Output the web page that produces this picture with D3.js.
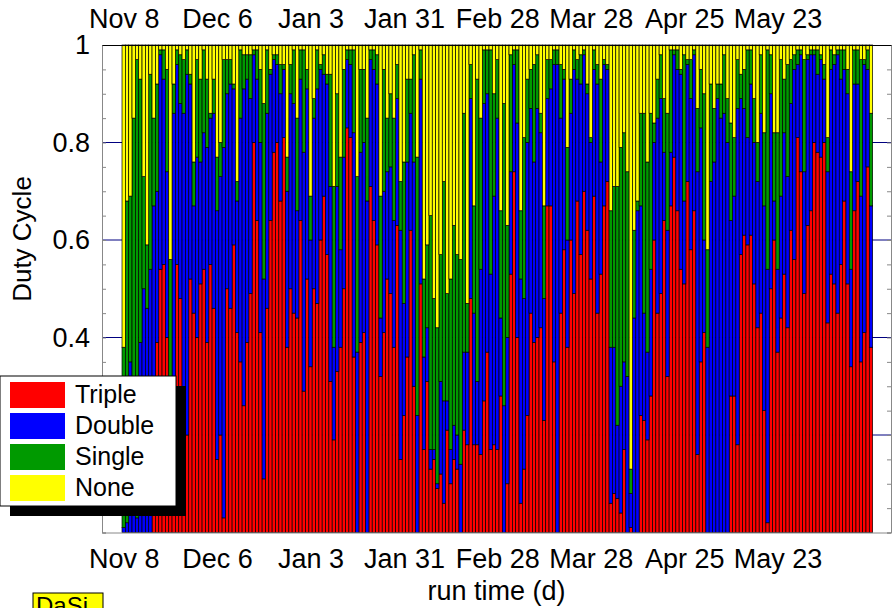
<!DOCTYPE html>
<html>
<head>
<meta charset="utf-8">
<script src="https://cdn.jsdelivr.net/npm/d3@7"></script>
<style>
  body { margin: 0; background: #fff; }
  text { font-family: "Liberation Sans", Arial, sans-serif; fill: #000; }
</style>
</head>
<body>
<svg id="chart" width="892" height="608"></svg>
<script>
// first bar is Nov 8, one bar per day
const startDay = new Date(Date.UTC(2002, 10, 8));
const tickLabels = ["Nov 8", "Dec 6", "Jan 3", "Jan 31", "Feb 28", "Mar 28", "Apr 25", "May 23"];
const gridTicks = [0.2, 0.4, 0.6, 0.8];
// 0.2 and 0 sit behind the legend in the original, so only these carry text
const yLabelTicks = [0.4, 0.6, 0.8, 1];
const seriesNames = ["Triple", "Double", "Single", "None"];
const seriesColors = ["#ff0000", "#0000ff", "#009a00", "#ffff00"];

// daily fractions, percent
const triple = [
  0,0,0,0,0,0,0,0,0,15, 39,54,55,40,10,20,55,48,25,20, 52,45,40,51,54,39,55,46,15,20,
  3,50,46,59,41,35,26,39,49,80, 64,41,11,46,64,78,80,68,81,38, 50,45,44,64,29,52,34,50,47,60,
  69,57,31,19,33,38,50,83,81,36, 0,39,41,0,71,64,59,32,41,52, 49,38,63,15,24,36,62,30,0,51,
  17,31,13,15,9,12,6,21,10,15, 13,0,21,18,48,18,18,16,27,37, 17,18,17,28,0,10,53,74,40,6,
  13,24,45,39,40,42,23,67,67,35, 0,45,58,38,60,49,68,57,70,62, 52,69,45,53,67,72,6,8,7,4,
  17,0,1,0,0,24,23,19,28,60, 45,49,64,32,67,77,66,54,51,72, 58,66,16,35,41,0,0,0,0,0,
  0,0,28,28,18,57,61,59,61,51, 42,45,25,2,50,60,37,44,53,42, 62,56,81,74,49,63,66,80,78,77,
  80,43,53,51,45,55,68,51,34,66, 72,35,41,75,38
];
const double = [
  1,2,35,30,3,39,50,46,54,52, 31,44,38,34,22,66,41,40,61,74, 40,22,37,25,28,40,30,40,51,53,
  76,40,46,32,27,50,65,54,40,18, 29,39,41,40,30,19,16,22,14,32, 40,43,22,29,49,39,26,35,44,35,
  25,35,40,19,38,20,27,14,15,46, 37,39,39,68,26,31,33,12,29,22, 26,26,26,47,23,40,24,46,24,42,
  19,11,4,2,1,19,21,6,7,7, 7,14,16,19,41,27,13,38,61,53, 36,51,68,16,26,30,21,22,44,46,
  35,56,42,37,47,40,25,22,24,61, 96,40,35,22,26,46,25,35,28,28, 28,26,47,23,29,23,32,30,15,26,
  18,32,7,44,66,43,22,18,26,20, 40,40,14,30,11,21,29,40,17,24, 31,32,58,48,19,38,72,76,89,85,
  86,80,36,41,69,32,26,22,31,29, 30,41,42,52,40,8,17,25,29,31, 26,39,15,24,25,34,32,18,16,20,
  13,31,42,45,53,38,27,39,20,26, 20,34,55,20,29
];
const single = [
  37,66,34,55,94,54,23,13,40,18, 22,1,6,21,24,6,3,10,11,5, 2,9,20,17,17,14,1,7,11,7,
  18,7,5,1,4,14,7,5,9,1, 6,15,36,13,1,1,2,6,1,7, 6,11,19,6,21,4,9,4,8,1,
  4,2,23,33,19,19,18,2,3,17, 36,17,15,17,2,4,6,25,25,11, 15,21,7,10,29,17,7,22,53,6,
  16,17,48,31,32,26,45,22,35,41, 37,42,49,10,7,22,62,31,11,9, 46,21,12,22,62,23,24,3,15,14,
  33,13,8,20,11,4,19,8,6,3, 3,11,2,19,7,4,4,6,1,2, 1,4,4,17,1,1,28,33,49,49,
  47,42,5,18,2,19,41,39,32,4, 8,9,11,24,21,1,4,1,30,1, 8,1,13,12,30,20,20,11,3,7,
  12,9,20,12,10,5,8,18,7,9, 8,12,15,45,8,14,28,28,11,23, 9,3,3,1,23,1,1,1,5,1,
  3,7,4,2,1,6,4,5,20,7, 7,28,1,4,19
];
const none = [
  62,32,31,15,3,7,27,41,6,15, 8,1,1,5,44,8,1,2,3,1, 6,24,3,7,1,7,14,7,23,20,
  3,3,3,8,28,1,2,2,2,1, 1,5,12,1,5,2,2,4,4,23, 4,1,15,1,1,5,31,11,1,4,
  2,6,6,29,10,23,5,1,1,1, 27,5,5,15,1,1,2,31,5,15, 10,15,4,28,24,7,7,2,23,1,
  48,41,35,52,58,43,28,51,48,37, 43,44,14,53,4,33,7,15,1,1, 1,10,3,34,12,37,2,1,1,34,
  19,7,5,4,2,14,33,3,3,1, 1,4,5,21,7,1,3,2,1,8, 19,1,4,7,3,4,34,29,29,21,
  18,26,87,38,32,14,14,24,14,16, 7,2,11,14,1,1,1,5,2,3, 3,1,13,5,10,42,8,13,8,8,
  2,11,16,19,3,6,5,1,1,11, 20,2,18,1,2,18,18,3,7,4, 3,2,1,1,3,2,1,1,1,2,
  4,19,1,2,1,1,1,5,26,1, 1,3,3,1,14
];

const margin = { top: 45, right: 1, bottom: 75.5, left: 102 };
const W = 892, H = 608;
const plotW = W - margin.left - margin.right;
const plotH = H - margin.top - margin.bottom;

const svg = d3.select("#chart");
svg.append("rect").attr("width", W).attr("height", H).attr("fill", "#fff");

const days = d3.utcDay.range(startDay, d3.utcDay.offset(startDay, triple.length));
const table = days.map((date, i) => ({
  date,
  Triple: triple[i] / 100,
  Double: double[i] / 100,
  Single: single[i] / 100,
  None: none[i] / 100
}));

const x = d3.scaleUtc()
  .domain([d3.utcHour.offset(startDay, -156), d3.utcDay.offset(startDay, 230)])
  .range([margin.left, margin.left + plotW]);
const y = d3.scaleLinear().domain([0, 1]).range([margin.top + plotH, margin.top]);

// grid lines behind the bars
svg.append("g")
  .selectAll("line")
  .data(gridTicks)
  .join("line")
  .attr("x1", margin.left).attr("x2", margin.left + plotW)
  .attr("y1", d => y(d)).attr("y2", d => y(d))
  .attr("stroke", "#000080").attr("stroke-width", 1);

const stacked = d3.stack().keys(seriesNames)(table);
const color = d3.scaleOrdinal().domain(seriesNames).range(seriesColors);

svg.append("g")
  .selectAll("g")
  .data(stacked)
  .join("g")
  .attr("fill", d => color(d.key))
  .selectAll("rect")
  .data(d => d)
  .join("rect")
  .attr("x", d => x(d3.utcHour.offset(d.data.date, -12)))
  .attr("width", d => x(d3.utcHour.offset(d.data.date, 12)) - x(d3.utcHour.offset(d.data.date, -12)))
  .attr("y", d => y(d[1]))
  .attr("height", d => y(d[0]) - y(d[1]))
  .attr("stroke", "#000")
  .attr("stroke-width", 0.7);

// axes
const tickDates = tickLabels.map((t, i) => d3.utcDay.offset(startDay, 28 * i));
const fmt = d3.utcFormat("%b %-d");
const minorY = d3.range(0, 1.0001, 0.05);

const leftAxis = svg.append("g")
  .attr("transform", `translate(${margin.left},0)`)
  .call(d3.axisLeft(y).tickValues(minorY).tickSize(-4).tickPadding(12)
    .tickFormat(v => yLabelTicks.some(t => Math.abs(t - v) < 1e-6) ? d3.format("~g")(v) : ""));
leftAxis.selectAll("path, line").attr("stroke", "#888");
leftAxis.selectAll("text").attr("font-size", 27).attr("font-family", null);

const rightAxis = svg.append("g")
  .attr("transform", `translate(${margin.left + plotW},0)`)
  .call(d3.axisRight(y).tickValues(minorY).tickSize(-4).tickFormat(""));
rightAxis.selectAll("path, line").attr("stroke", "#888");

const topAxis = svg.append("g")
  .attr("transform", `translate(0,${margin.top})`)
  .call(d3.axisTop(x).tickValues(tickDates).tickSize(0).tickPadding(17.5).tickFormat(fmt));
topAxis.select("path").attr("stroke", "#000");
topAxis.selectAll("text").attr("font-size", 27).attr("font-family", null);

const bottomAxis = svg.append("g")
  .attr("transform", `translate(0,${margin.top + plotH})`)
  .call(d3.axisBottom(x).tickValues(tickDates).tickSize(0).tickPadding(16).tickFormat(fmt));
bottomAxis.select("path").attr("stroke", "#888");
bottomAxis.selectAll("text").attr("font-size", 27).attr("font-family", null);

// axis titles
svg.append("text")
  .attr("x", margin.left + plotW / 2).attr("y", 600)
  .attr("text-anchor", "middle").attr("font-size", 27)
  .text("run time (d)");

svg.append("text")
  .attr("transform", "translate(31,239) rotate(-90)")
  .attr("text-anchor", "middle").attr("font-size", 26)
  .text("Duty Cycle");

// legend with drop shadow
const legend = svg.append("g").attr("transform", "translate(0,376)");
legend.append("rect").attr("x", 10).attr("y", 10).attr("width", 176).attr("height", 130).attr("fill", "#000");
legend.append("rect").attr("x", 0).attr("y", 0).attr("width", 176).attr("height", 130)
  .attr("fill", "#fff").attr("stroke", "#000").attr("stroke-width", 1);
const legendOrder = ["Triple", "Double", "Single", "None"];
const rows = legend.selectAll("g.row")
  .data(legendOrder)
  .join("g")
  .attr("class", "row")
  .attr("transform", (d, i) => `translate(10,${6 + i * 31})`);
rows.append("rect").attr("width", 55).attr("height", 26).attr("fill", d => color(d));
rows.append("text").attr("x", 65).attr("y", 21).attr("font-size", 25).text(d => d);

// stamp box at bottom left
svg.append("rect").attr("x", 33).attr("y", 593).attr("width", 70).attr("height", 22)
  .attr("fill", "#ffff00").attr("stroke", "#000").attr("stroke-width", 1);
svg.append("text").attr("x", 36).attr("y", 614).attr("font-size", 24).text("DaSi");
</script>
</body>
</html>
